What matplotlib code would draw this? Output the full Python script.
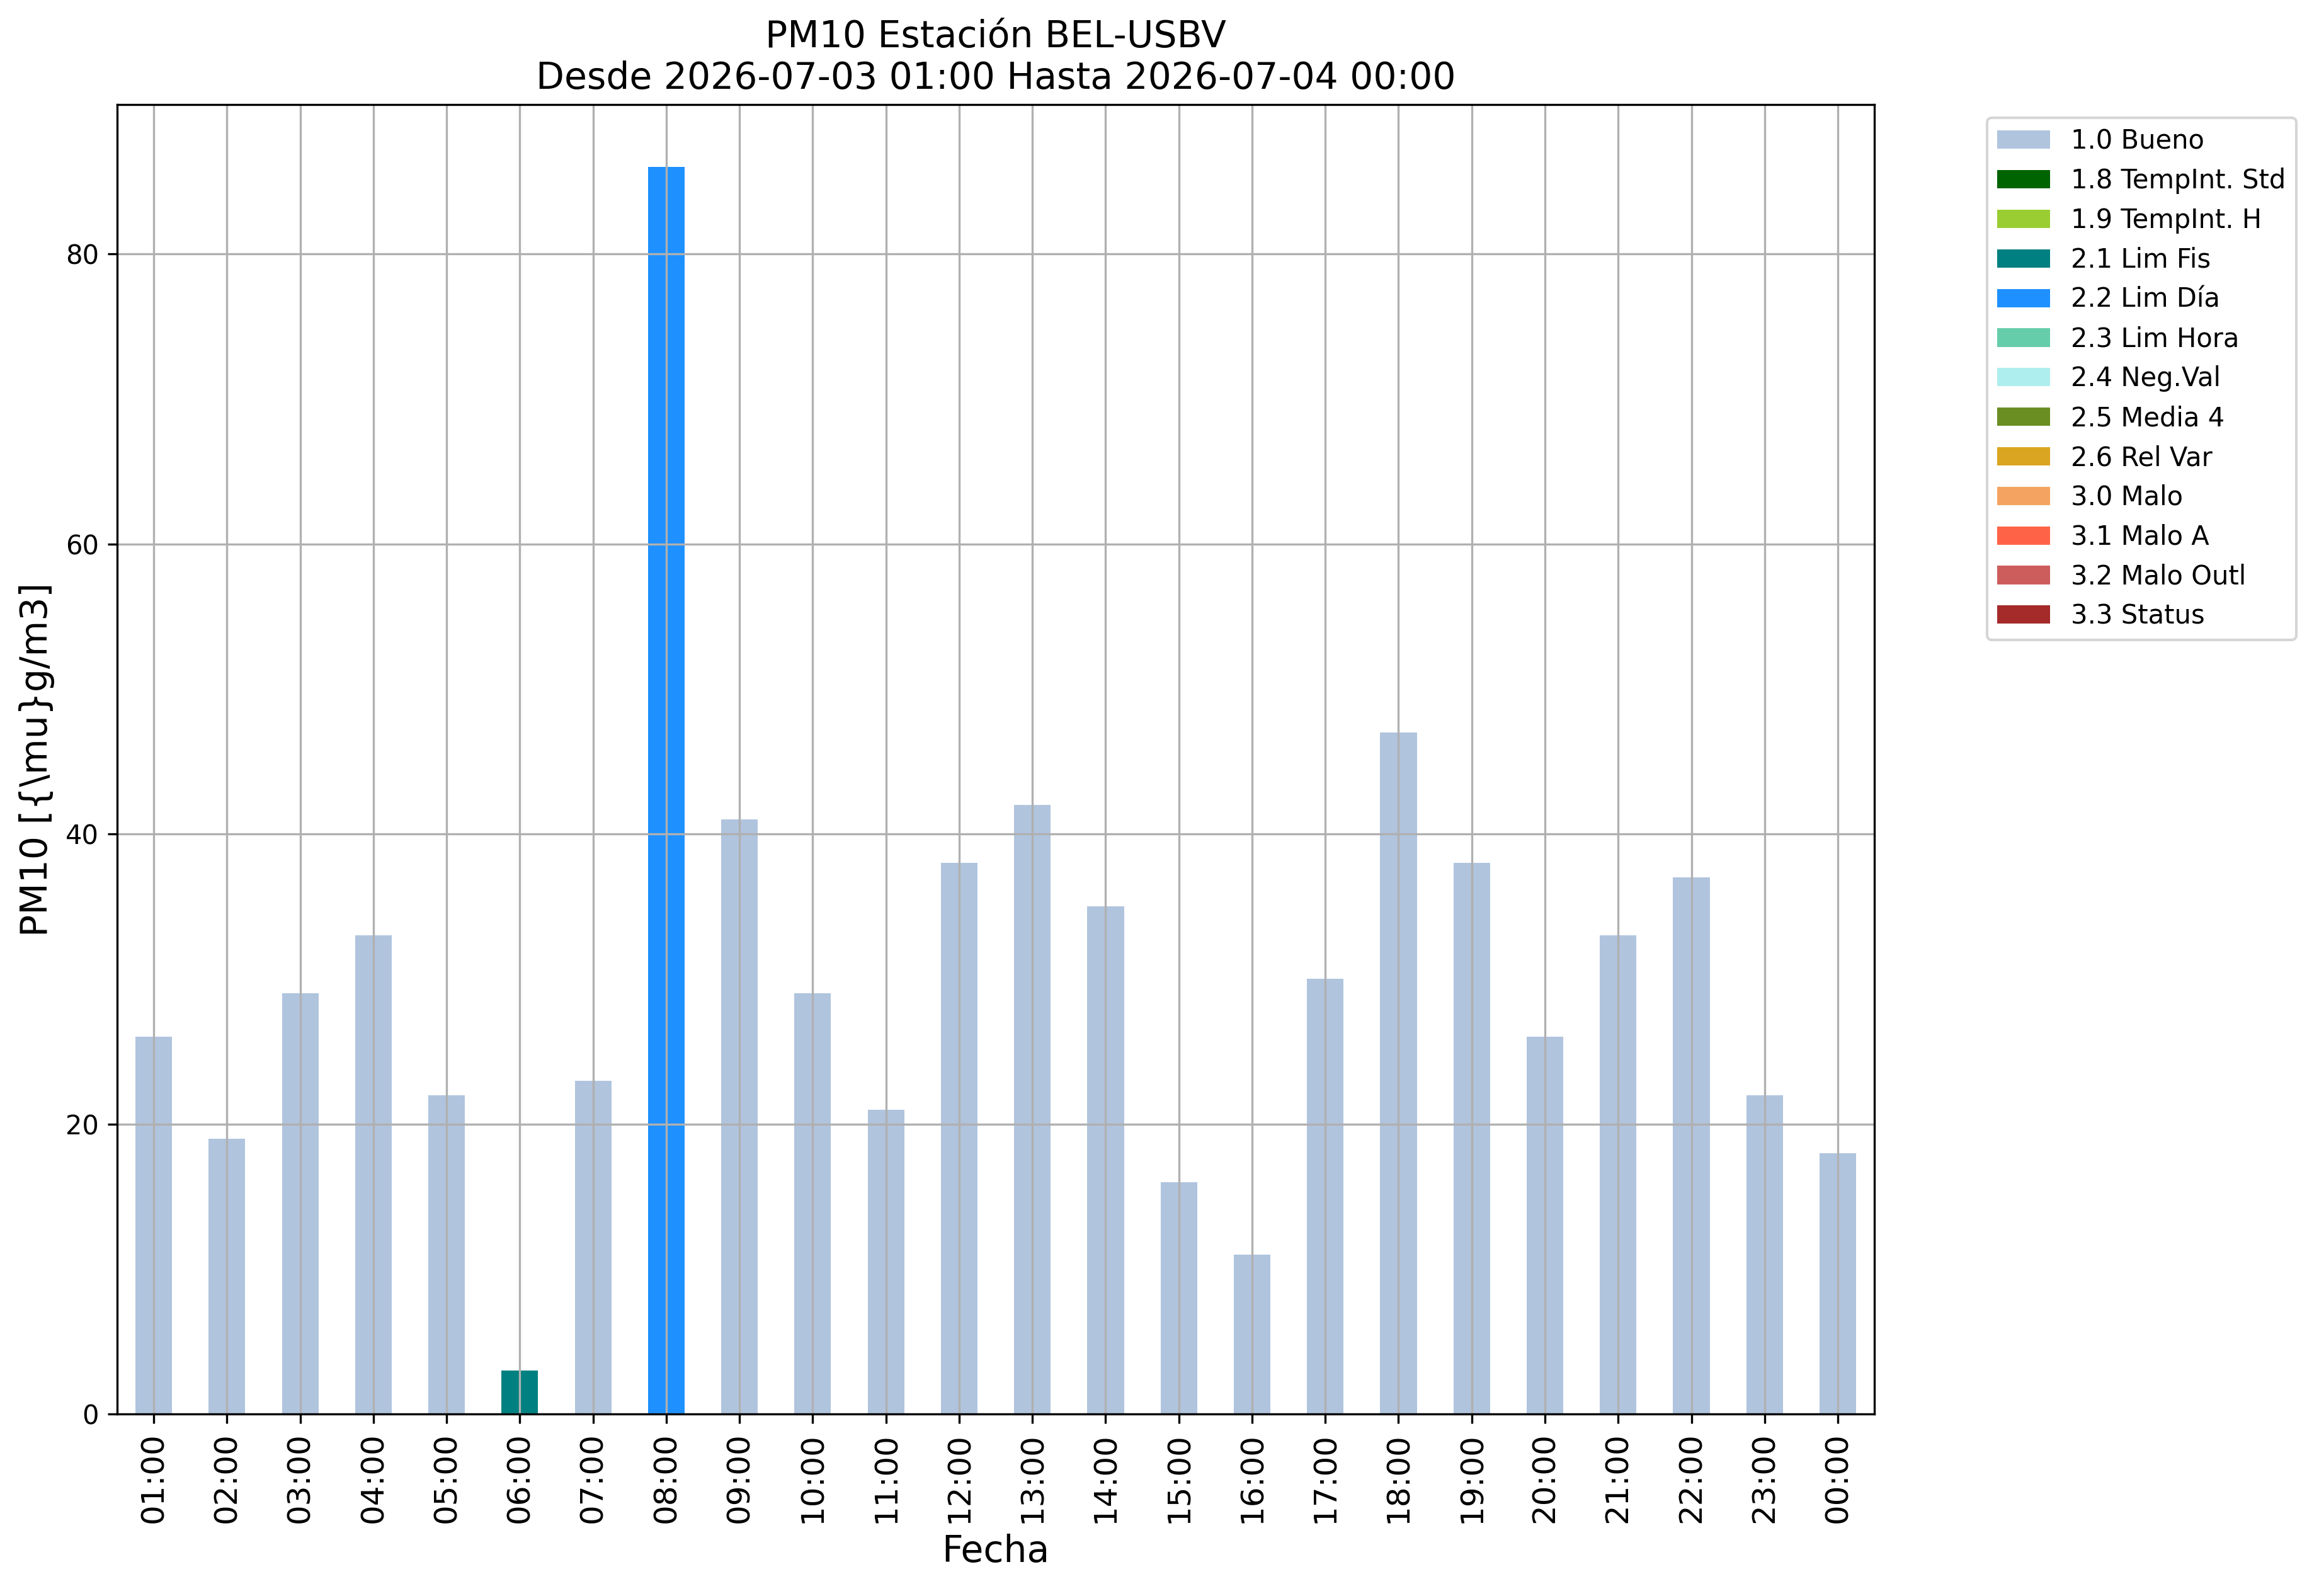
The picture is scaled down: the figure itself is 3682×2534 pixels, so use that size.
import numpy as np
import matplotlib
matplotlib.use("Agg")
import matplotlib.pyplot as plt

# hourly PM10 values and their validation flag
horas = ["01:00", "02:00", "03:00", "04:00", "05:00", "06:00", "07:00", "08:00",
         "09:00", "10:00", "11:00", "12:00", "13:00", "14:00", "15:00", "16:00",
         "17:00", "18:00", "19:00", "20:00", "21:00", "22:00", "23:00", "00:00"]
pm10 = [26, 19, 29, 33, 22, 3, 23, 86, 41, 29, 21, 38,
        42, 35, 16, 11, 30, 47, 38, 26, 33, 37, 22, 18]
flag = ["1.0 Bueno"] * 24
flag[5] = "2.1 Lim Fis"
flag[7] = "2.2 Lim Día"

categorias = ["1.0 Bueno", "1.8 TempInt. Std", "1.9 TempInt. H", "2.1 Lim Fis",
              "2.2 Lim Día", "2.3 Lim Hora", "2.4 Neg.Val", "2.5 Media 4",
              "2.6 Rel Var", "3.0 Malo", "3.1 Malo A", "3.2 Malo Outl", "3.3 Status"]
colores = ["lightsteelblue", "darkgreen", "yellowgreen", "teal", "dodgerblue",
           "mediumaquamarine", "paleturquoise", "olivedrab", "goldenrod",
           "sandybrown", "tomato", "indianred", "brown"]

fig = plt.figure(figsize=(3682 / 300, 2534 / 300), dpi=300)
ax = fig.add_axes([0.0505, 0.114, 0.7578, 0.8205])

x = np.arange(len(horas))
bottom = np.zeros(len(horas))
for cat, col in zip(categorias, colores):
    vals = np.array([v if f == cat else 0 for v, f in zip(pm10, flag)], dtype=float)
    ax.bar(x, vals, width=0.5, bottom=bottom, color=col, label=cat)
    bottom += vals

ax.set_xlim(-0.5, len(horas) - 0.5)
ax.set_ylim(0, bottom.max() * 1.05)   # usual 5% headroom
ax.set_xticks(x)
ax.set_xticklabels(horas, rotation=90, fontsize=12)
ax.tick_params(axis="y", labelsize=10)
ax.grid(True)
ax.set_xlabel("Fecha", fontsize=14)
ax.set_ylabel(r"PM10 [{\mu}g/m3]", fontsize=14)
ax.set_title("PM10 Estación BEL-USBV\nDesde 2026-07-03 01:00 Hasta 2026-07-04 00:00",
             fontsize=14)
ax.legend(loc="upper left", bbox_to_anchor=(1.0565, 1.0), fontsize=10)

fig.savefig("out.png", dpi=300)
